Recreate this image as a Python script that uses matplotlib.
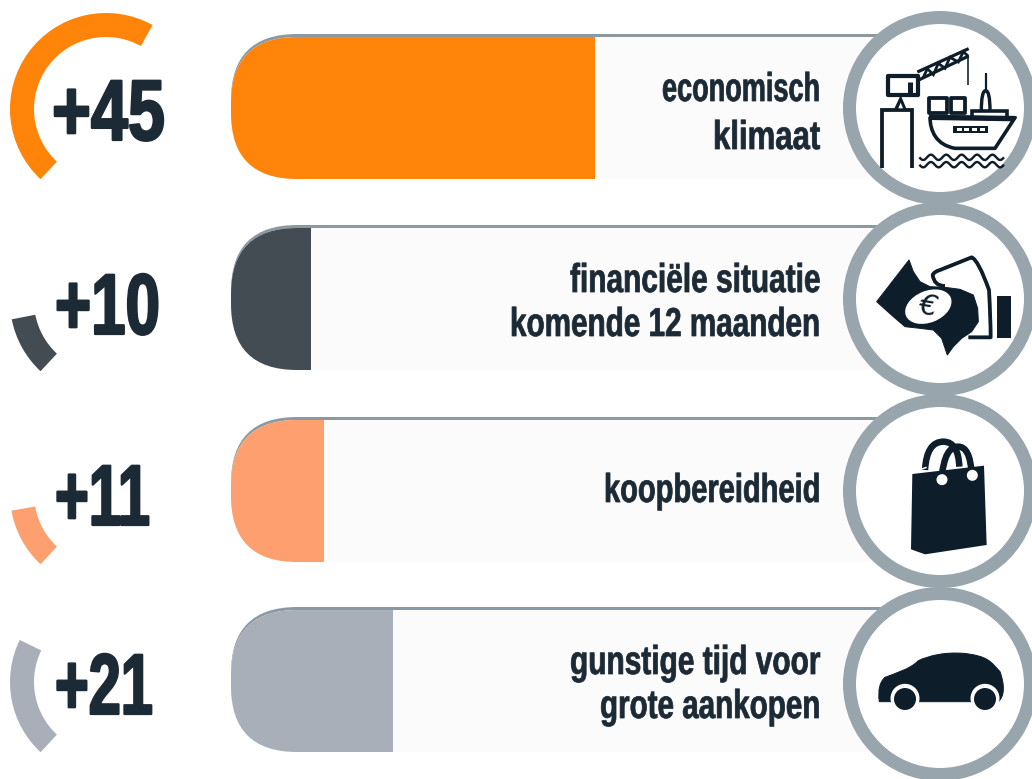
import numpy as np
import matplotlib
matplotlib.use("Agg")
import matplotlib.pyplot as plt
from matplotlib.patches import Wedge, Circle, FancyBboxPatch, Polygon, PathPatch, Ellipse
from matplotlib.path import Path
from matplotlib.patheffects import AbstractPathEffect
from matplotlib.transforms import Affine2D

# ---- data ----
index_labels = ["+45", "+10", "+11", "+21"]
gauge_sweep_deg = [166, 36, 37, 73]
bar_lengths = [45.0, 9.9, 11.5, 20.0]
labels = [["economisch", "klimaat"],
          ["financiële situatie", "komende 12 maanden"],
          ["koopbereidheid"],
          ["gunstige tijd voor", "grote aankopen"]]
colors = ["#ff8409", "#434c53", "#fd9f6f", "#a9afb9"]

# ---- layout ----
W, H = 1032, 779
gauge_cy = [109, 301, 494, 682]
ring_cy = [108, 299, 491, 684]
bar_top = [37, 228, 420, 610]
number_base = [140, 334, 525, 714]
number_x = [52, 55, 55, 55]
number_w = [113, 105, 95, 98]
label_base = [[101, 149], [292, 336], [502], [674, 718]]
label_w = [[158, 107], [250, 310], [216], [250, 220]]
BAR_H = 142
BAR_X, BAR_END = 231, 990
PX_PER_UNIT = 8.09
RING_GREY = "#98a5ad"
INK = "#1c2a36"
ICON = "#0e1d2a"
FONT = ["Liberation Sans", "DejaVu Sans"]


class Squeeze(AbstractPathEffect):
    """Narrow the glyphs of a text horizontally around a pixel anchor; the font has no condensed cut."""

    def __init__(self, anchor_x, sx, stroke=0.0):
        super().__init__()
        self.anchor_x, self.sx, self.stroke = anchor_x, sx, stroke

    def draw_path(self, renderer, gc, tpath, affine, rgbFace=None):
        t = affine + Affine2D().translate(-self.anchor_x, 0).scale(self.sx, 1).translate(self.anchor_x, 0)
        gc0 = renderer.new_gc()
        gc0.copy_properties(gc)
        gc0.set_linewidth(self.stroke)
        gc0.set_foreground(rgbFace)
        renderer.draw_path(gc0, tpath, t, rgbFace)
        gc0.restore()


fig = plt.figure(figsize=(W / 100, H / 100), dpi=100, facecolor="white")
ax = fig.add_axes([0, 0, 1, 1])
ax.set_xlim(0, W); ax.set_ylim(H, 0); ax.axis("off")
axb = fig.add_axes([BAR_X / W, 0, 100 * PX_PER_UNIT / W, 1])
axb.set_xlim(0, 100); axb.set_ylim(H, 0); axb.axis("off"); axb.patch.set_alpha(0)
axi = fig.add_axes([0, 0, 1, 1])
axi.set_xlim(0, W); axi.set_ylim(H, 0); axi.axis("off"); axi.patch.set_alpha(0)
PT = 0.72  # one pixel in points
fig.canvas.draw()
rend = fig.canvas.get_renderer()


def fitted_text(a, x, y, s, width, ha, size, stroke):
    t = a.text(x, y, s, family=FONT, weight="bold", fontsize=size, color=INK, ha=ha, va="baseline")
    w = t.get_window_extent(rend).width
    t.set_path_effects([Squeeze(x, width / w, stroke)])
    return t


for i in range(4):
    # gauge arc: starts lower left and sweeps clockwise
    start = 133
    ax.add_patch(Wedge((106, gauge_cy[i]), 96, start, start + gauge_sweep_deg[i], width=24,
                       fc=colors[i], ec="none"))
    fitted_text(ax, number_x[i], number_base[i], index_labels[i], number_w[i], "left", 62, 1.6)
    # track
    ax.add_patch(FancyBboxPatch((BAR_X, bar_top[i] - 3), BAR_END - BAR_X, BAR_H,
                                boxstyle="round,pad=0,rounding_size=66", fc="#8d99a2", ec="none"))
    track = FancyBboxPatch((BAR_X, bar_top[i]), BAR_END - BAR_X, BAR_H,
                           boxstyle="round,pad=0,rounding_size=66", fc="#fbfbfc", ec="none")
    ax.add_patch(track)
    bars = axb.barh([bar_top[i] + BAR_H / 2], [bar_lengths[i]], height=BAR_H, color=colors[i])
    for b in bars:
        b.set_clip_path(track)
    # label
    for t, y, w in zip(labels[i], label_base[i], label_w[i]):
        fitted_text(axi, 820, y, t, w, "right", 29, 0.55)
    # ring
    axi.add_patch(Circle((940, ring_cy[i]), 90.5, fc="white", ec=RING_GREY, lw=13 * PT, zorder=2))


def z(pts, oy=0):
    a = np.asarray(pts, float) / 3.0
    a[:, 0] += 830
    a[:, 1] += oy
    return a


def line(pts, oy=0, lw=3.0, c=ICON, cap="butt", join="miter"):
    a = z(pts, oy)
    axi.plot(a[:, 0], a[:, 1], color=c, lw=lw * PT, solid_capstyle=cap, solid_joinstyle=join, zorder=3)


def poly(pts, oy=0, fc=ICON, ec="none", lw=0, zo=3):
    axi.add_patch(Polygon(z(pts, oy), closed=True, fc=fc, ec=ec, lw=lw * PT, joinstyle="round", zorder=zo))


def curve(verts, codes, oy=0, fc="none", ec=ICON, lw=3.0, zo=3):
    axi.add_patch(PathPatch(Path(z(verts, oy), codes), fc=fc, ec=ec, lw=lw * PT,
                            capstyle="butt", joinstyle="round", zorder=zo))


M, L, C3, C4 = Path.MOVETO, Path.LINETO, Path.CURVE3, Path.CURVE4

# --- crane and ship ---
line([(156, 505), (156, 331), (245, 331), (245, 505)], lw=3.8)
poly([(175, 228), (265, 228), (265, 285), (175, 285)], fc="white", ec=ICON, lw=4.2)
line([(240, 245), (240, 285)], lw=5)
poly([(212, 285), (192, 328), (230, 328)])
poly([(212, 308), (205, 325), (219, 325)], fc="white")
line([(262, 216), (416, 146)], lw=3.2)
line([(266, 240), (416, 168)], lw=3.2)
line([(280, 232), (292, 206), (310, 224), (325, 190), (345, 205), (360, 172), (385, 186), (400, 155), (414, 168)], lw=2.8)
line([(415, 165), (415, 255)], lw=1.6)
poly([(298, 295), (352, 295), (352, 338), (298, 338)], fc="white", ec=ICON, lw=3.8)
poly([(362, 295), (406, 295), (406, 338), (362, 338)], fc="white", ec=ICON, lw=3.8)
line([(467, 218), (467, 272)], lw=2.2)
curve([(454, 332), (454, 272), (467, 272), (480, 272), (480, 332)], [M, C3, C3, C3, C3], lw=3.4)
line([(425, 350), (425, 332), (530, 332), (530, 350)], lw=3.6)
curve([(300, 350), (555, 353), (495, 445), (375, 445), (320, 435), (300, 395), (300, 350)],
      [M, L, L, L, C4, C4, C4], fc="white", lw=3.6)
poly([(297, 344), (562, 350), (552, 364), (297, 360)])
poly([(370, 378), (475, 378), (475, 398), (370, 398)])
for wx in (380, 403, 426, 449):
    poly([(wx, 383), (wx + 15, 383), (wx + 15, 393), (wx, 393)], fc="white", zo=4)
wave_x = np.linspace(268, 522, 120)
for wy in (472, 494):
    line(np.column_stack([wave_x, wy + 8 * np.sin((wave_x - 268) / 254 * 2 * np.pi * 5.5)]), lw=2.4, join="round")

# --- money and hand ---
poly([(237, 780), (250, 815), (270, 845), (300, 860), (345, 862), (390, 868), (430, 885), (443, 925), (445, 965),
      (425, 995), (395, 1015), (370, 1040), (352, 1065), (335, 1015), (310, 990), (270, 985), (225, 980), (190, 950),
      (140, 905)], fc=ICON, ec=ICON, lw=1)
axi.add_patch(Ellipse((830 + 295 / 3, 920 / 3), 145 / 3, 95 / 3, angle=-22, fc="white", ec="none", zorder=4))
axi.text(830 + 295 / 3, 921 / 3, "€", family=["DejaVu Sans"], style="italic", fontsize=21, color=ICON,
         ha="center", va="center", zorder=5, rotation=-10)
curve([(345, 858), (312, 858), (308, 825), (312, 815), (330, 810), (425, 772), (445, 780), (477, 870), (482, 960),
       (482, 1012), (465, 1012), (415, 1012)],
      [M, C3, C3, C3, C3, L, C3, C3, C3, C3, C3, L], lw=3.8)
poly([(500, 888), (542, 888), (542, 1015), (500, 1015)])

# --- bag ---
OY3 = 390
poly([(247, 252), (462, 227), (470, 465), (285, 493), (243, 478)], OY3)
curve([(285, 240), (290, 155), (340, 155), (385, 155), (388, 230)], [M, C3, C3, C3, C3], OY3, lw=6.5)
curve([(335, 260), (345, 168), (385, 170), (420, 170), (425, 250)], [M, C3, C3, C3, C3], OY3, lw=6.5)
for c in ((336, 269), (427, 256)):
    axi.add_patch(Circle((830 + c[0] / 3, OY3 + c[1] / 3), 5.5, fc="white", ec="none", zorder=4))
line([(250, 245), (290, 232)], OY3, lw=1.5, c="white")

# --- car ---
curve([(148, 935), (143, 900), (150, 875), (165, 862), (195, 850), (240, 838), (265, 812), (300, 796),
       (345, 786), (400, 790), (475, 798), (482, 815), (510, 845), (526, 890), (522, 920), (505, 935), (148, 935)],
      [M, C4, C4, C4, C4, C4, C4, C4, C4, C4, C4, C4, C4, C4, C4, C4, L], OY3, fc=ICON, ec=ICON, lw=1)
for wx in (225, 465):
    axi.add_patch(Circle((830 + wx / 3, OY3 + 925 / 3), 14.5, fc="white", ec="none", zorder=4))
    axi.add_patch(Circle((830 + wx / 3, OY3 + 927 / 3), 11, fc=ICON, ec="none", zorder=5))

fig.savefig("out.png", dpi=100)
